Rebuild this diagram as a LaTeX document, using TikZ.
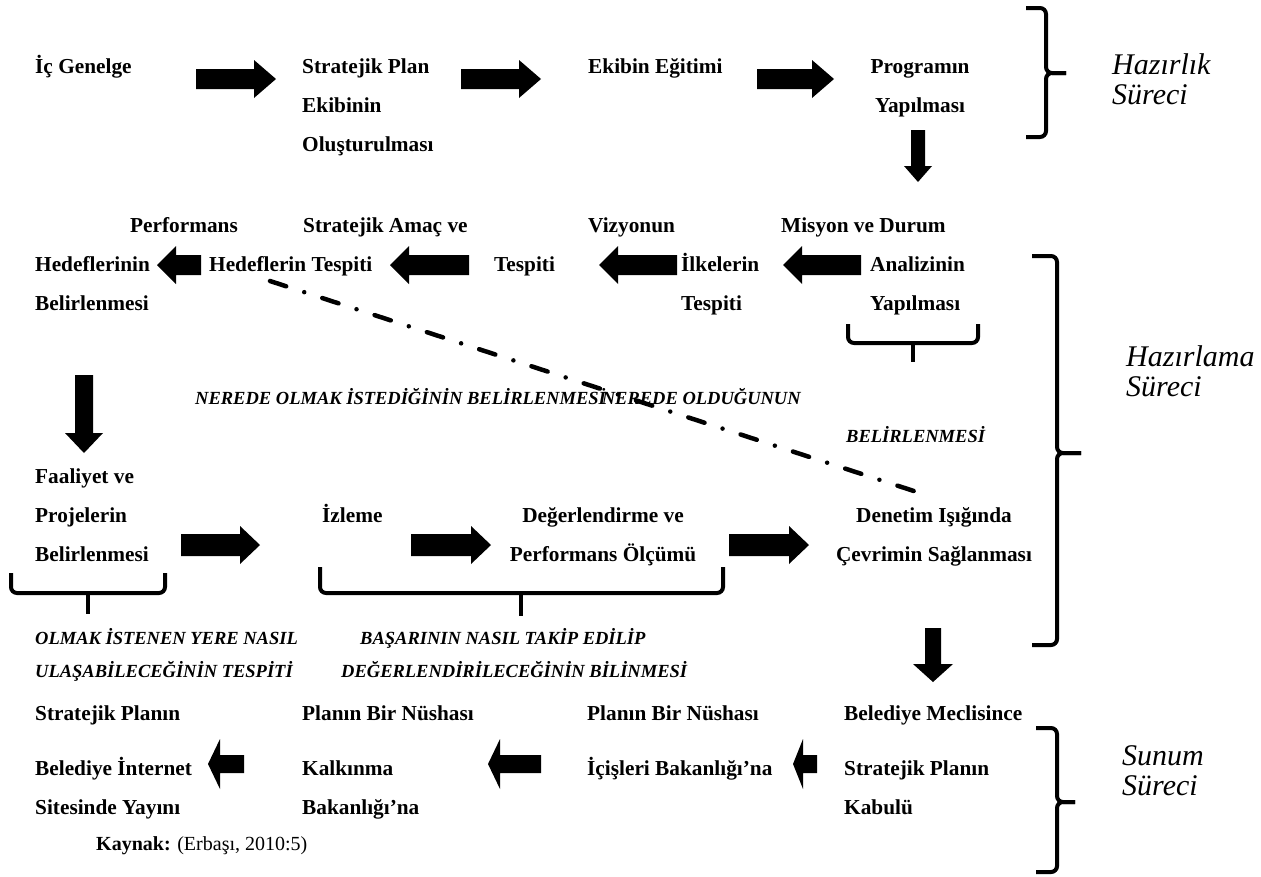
\documentclass[tikz,border=0pt]{standalone}
\usepackage{fontspec}
\setmainfont{Liberation Serif}
\newcommand\ml[1]{\begin{tabular}[t]{@{}l@{}}#1\end{tabular}}
\newcommand\mc[1]{\begin{tabular}[t]{@{}c@{}}#1\end{tabular}}
% right block arrow: x1, x2(tip), yc, shaft half, head half, head length
\newcommand\arrR[6]{\fill (#1,#3-#4) -- (#2-#6,#3-#4) -- (#2-#6,#3-#5) -- (#2,#3) -- (#2-#6,#3+#5) -- (#2-#6,#3+#4) -- (#1,#3+#4) -- cycle;}
% left block arrow: tip x, end x, yc, shaft half, head half, head length
\newcommand\arrL[6]{\fill (#1,#3) -- (#1+#6,#3-#5) -- (#1+#6,#3-#4) -- (#2,#3-#4) -- (#2,#3+#4) -- (#1+#6,#3+#4) -- (#1+#6,#3+#5) -- cycle;}
% down block arrow: xc, top y, tip y, shaft half, head half, head length
\newcommand\arrD[6]{\fill (#1-#4,#2) -- (#1+#4,#2) -- (#1+#4,#3-#6) -- (#1+#5,#3-#6) -- (#1,#3) -- (#1-#5,#3-#6) -- (#1-#4,#3-#6) -- cycle;}
% right curly brace: bar x, top, bottom, tip y, serif x, tip x
\newcommand\braceR[6]{\draw[brc] (#5,#2) -- (#1,#2) -- (#1,#4) -- (#6,#4);
  \draw[brc] (#5,#3) -- (#1,#3) -- (#1,#4) -- (#6,#4);}
% under bracket: x1, x2, top, bottom, stem end, stem x
\newcommand\brk[6]{\draw[brc] (#1,#3) -- (#1,#4) -- (#2,#4) -- (#2,#3);
  \draw[line width=4pt] (#6,#4) -- (#6,#5);}
\begin{document}
\begin{tikzpicture}[x=1pt,y=-1pt,
  lbl/.style={font=\bfseries\fontsize{21.3}{39}\selectfont, inner sep=0pt, anchor=base west},
  lblc/.style={lbl, anchor=base},
  ital/.style={font=\bfseries\itshape\fontsize{18.5}{33}\selectfont, inner sep=0pt, anchor=base west},
  side/.style={font=\itshape\fontsize{30}{30.5}\selectfont, inner sep=0pt, anchor=base west},
  brc/.style={line width=4pt, rounded corners=6pt},
  dd/.style={line width=4.5pt, line cap=round, dash pattern=on 17pt off 19pt on 0pt off 19pt}
]
\useasboundingbox (0,0) rectangle (1261,876);

% ---- row 1
\node[lbl] (ic) at (35,73) {İç Genelge};
\node[lbl] (spe) at (302,73) {\ml{Stratejik Plan\\Ekibinin\\Oluşturulması}};
\node[lbl] (ee) at (588,73) {Ekibin Eğitimi};
\node[lblc] (py) at (920,73) {\mc{Programın\\Yapılması}};
\arrR{196}{276}{79}{10}{19}{22}
\arrR{461}{541}{79}{10}{19}{22}
\arrR{757}{834}{79}{10}{19}{22}
\arrD{918}{130}{182}{7}{14}{16}
\braceR{1046}{8}{137}{73}{1026}{1066}
\node[side] (hzk) at (1112,74) {\ml{Hazırlık\\Süreci}};

% ---- row 2
\node[lbl] (phb) at (35,232) {\ml{\hspace*{95pt}Performans\\Hedeflerinin\\Belirlenmesi}};
\node[lbl] (sah) at (209,232) {\ml{\hspace*{94pt}Stratejik Amaç ve\\Hedeflerin Tespiti}};
\node[lbl] (vt) at (494,232) {\ml{\hspace*{94pt}Vizyonun\\Tespiti}};
\node[lbl] (it) at (681,271) {\ml{İlkelerin\\Tespiti}};
\node[lbl] (mda) at (781,232) {\ml{Misyon ve Durum\\\hspace*{89pt}Analizinin\\\hspace*{89pt}Yapılması}};
\arrL{157}{201}{265}{10}{19}{19}
\arrL{390}{469}{265}{10}{19}{19}
\arrL{599}{677}{265}{10}{19}{19}
\arrL{783}{861}{265}{10}{19}{19}
\brk{848}{978}{324}{343}{362}{913}
\braceR{1057}{256}{645}{453}{1032}{1081}
\node[side] (hzl) at (1126,366) {\ml{Hazırlama\\Süreci}};

\coordinate (dd1) at (270,281);
\coordinate (dd2) at (920,493);
\draw[dd] (dd1) -- (dd2);
\node[ital] (ner) at (195,404) {NEREDE OLMAK İSTEDİĞİNİN BELİRLENMESİ\kern-4pt\relax NEREDE OLDUĞUNUN};
\node[ital] (bel) at (846,442) {BELİRLENMESİ};

% ---- row 3
\arrD{84}{375}{453}{9}{19}{20}
\node[lbl] (fpb) at (35,483) {\ml{Faaliyet ve\\Projelerin\\Belirlenmesi}};
\node[lbl] (izl) at (322,522) {İzleme};
\node[lblc] (dpo) at (603,522) {\mc{Değerlendirme ve\\Performans Ölçümü}};
\node[lblc] (dcs) at (934,522) {\mc{Denetim Işığında\\Çevrimin Sağlanması}};
\arrR{181}{260}{545}{11}{19}{20}
\arrR{411}{491}{545}{11}{19}{20}
\arrR{729}{809}{545}{11}{19}{20}
\brk{11}{165}{573}{593}{614}{88}
\brk{320}{723}{567}{593}{616}{521}
\node[ital] (olm) at (35,644) {\ml{OLMAK İSTENEN YERE NASIL\\ULAŞABİLECEĞİNİN TESPİTİ}};
\node[ital] (bas) at (341,644) {\ml{\hspace*{19pt}BAŞARININ NASIL TAKİP EDİLİP\\DEĞERLENDİRİLECEĞİNİN BİLİNMESİ}};
\arrD{933}{628}{682}{8}{20}{18}

% ---- row 4
\node[lbl] (sbs) at (35,720) {\ml{Stratejik Planın\\[16pt]Belediye İnternet\\Sitesinde Yayını}};
\node[lbl] (pkb) at (302,720) {\ml{Planın Bir Nüshası\\[16pt]Kalkınma\\Bakanlığı’na}};
\node[lbl] (pib) at (587,720) {\ml{Planın Bir Nüshası\\[16pt]İçişleri Bakanlığı’na}};
\node[lbl] (bms) at (844,720) {\ml{Belediye Meclisince\\[16pt]Stratejik Planın\\Kabulü}};
\arrL{208}{244}{764}{9}{25}{12}
\arrL{488}{541}{764}{9}{25}{12}
\arrL{793}{817}{764}{9}{25}{10}
\braceR{1057}{728}{872}{802}{1036}{1075}
\node[side] (sun) at (1122,765) {\ml{Sunum\\Süreci}};

\node[font=\fontsize{20}{24}\selectfont, inner sep=0pt, anchor=base west] (kay) at (96,850) {\textbf{Kaynak:} (Erbaşı, 2010:5)};
\end{tikzpicture}
\end{document}
